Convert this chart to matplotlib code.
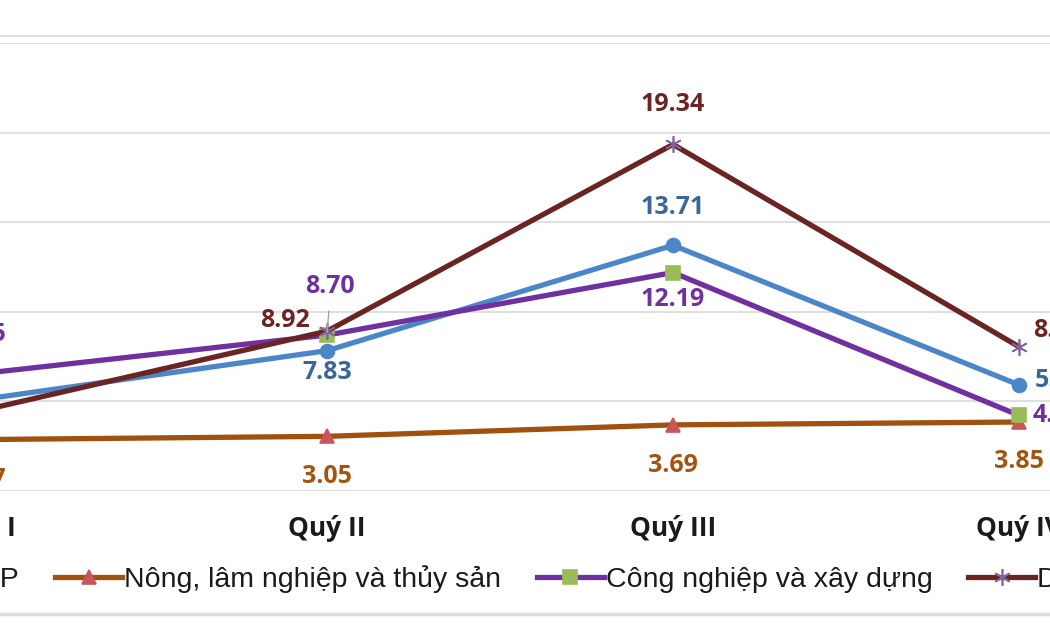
import matplotlib.pyplot as plt
from matplotlib.lines import Line2D

# dữ liệu (%)
quarters = ['Quý I', 'Quý II', 'Quý III', 'Quý IV']
gdp = [5.10, 7.83, 13.71, 5.92]
nong_nghiep = [2.87, 3.05, 3.69, 3.85]
cong_nghiep = [6.55, 8.70, 12.19, 4.22]
dich_vu = [4.48, 8.92, 19.34, 8.05]

series_names = ['GDP', 'Nông, lâm nghiệp và thủy sản',
                'Công nghiệp và xây dựng', 'Dịch vụ']

# vị trí nhãn: (dx, dy) tính theo point
label_offsets = {
    'GDP':  [(-12, -16), (0, -16), (0, 27), (11, 3.5)],
    'NL':   [(0, -29), (0, -29), (0, -29), (0, -28.5)],
    'CN':   [(0, 28), (2, 35), (0, -19.5), (10, 0)],
    'DV':   [(-12, -16), (-12, 8), (0, 29), (10, 11.5)],
}

plt.rcParams['font.family'] = ['Liberation Sans', 'DejaVu Sans']

fig = plt.figure(figsize=(10.5, 6.3), dpi=100)
# trục rộng hơn khung hình một chút để nhãn "Quý I" hiện ra một phần
ax = fig.add_axes([-60 / 1050, 139 / 630, 1110 / 1050, 448 / 630])

x = list(range(len(quarters)))

styles = [
    dict(data=gdp, key='GDP', color='#4A86C8', marker='o', mfc='#4A86C8',
         mec='#4A86C8', ms=10, tcolor='#3A6699'),
    dict(data=nong_nghiep, key='NL', color='#A0500F', marker='^', mfc='#C9555A',
         mec='#C9555A', ms=10, tcolor='#A35410'),
    dict(data=cong_nghiep, key='CN', color='#7030A0', marker='s', mfc='#9BBB59',
         mec='#9BBB59', ms=10, tcolor='#7030A0'),
    dict(data=dich_vu, key='DV', color='#6B2424', marker=(6, 2, 0), mfc='#8064A2',
         mec='#8064A2', ms=12, tcolor='#6B2424'),
]

for name, st in zip(series_names, styles):
    ax.plot(x, st['data'], color=st['color'], lw=3.8, marker=st['marker'],
            mfc=st['mfc'], mec=st['mec'], ms=st['ms'], mew=1.2,
            label=name, zorder=3, clip_on=False)
    for i, v in enumerate(st['data']):
        dx, dy = label_offsets[st['key']][i]
        ha = 'center'
        if dx > 3:
            ha = 'left'
        elif dx < -3:
            ha = 'right'
        ax.annotate(f'{v:.2f}', (i, v), xytext=(dx, dy),
                    textcoords='offset points', ha=ha, va='center',
                    fontsize=18, fontweight='bold', family='Open Sans',
                    color=st['tcolor'], zorder=5)

# đường dẫn cho nhãn 8.70
ax.annotate('', (1, cong_nghiep[1]), xytext=(1.006, cong_nghiep[1] + 1.5),
            arrowprops=dict(arrowstyle='-', color='#A6A6A6', lw=1), zorder=4)

ax.set_xlim(-41 / 346, 3 + 31 / 346)
ax.set_ylim(0, 25)
ax.set_yticks([0, 5, 10, 15, 20, 25])
ax.set_yticklabels([])
ax.tick_params(axis='y', length=0)
ax.set_xticks(x)
ax.set_xticklabels(quarters, fontsize=19, fontweight='bold', family='Open Sans',
                   color='#1A1A1A')
ax.tick_params(axis='x', length=0, pad=17)
ax.grid(axis='y', color='#D9D9D9', lw=1.2)
ax.set_axisbelow(True)
for s in ax.spines.values():
    s.set_visible(False)

leg = ax.legend(loc='center left', bbox_to_anchor=(-137 / 1050, 1 - 579 / 630),
                bbox_transform=fig.transFigure, ncol=4, frameon=False,
                fontsize=20.5, handlelength=2.35, handletextpad=0.07,
                columnspacing=1.26)
for t in leg.get_texts():
    t.set_color('#1A1A1A')

# khung biểu đồ
fig.add_artist(Line2D([0, 1], [1 - 36 / 630, 1 - 36 / 630], color='#D9D9D9',
                      lw=1.2, transform=fig.transFigure))
fig.add_artist(Line2D([0, 1], [1 - 614 / 630, 1 - 614 / 630], color='#DDDDDD',
                      lw=2.5, transform=fig.transFigure))

fig.savefig('out.png', dpi=100)
